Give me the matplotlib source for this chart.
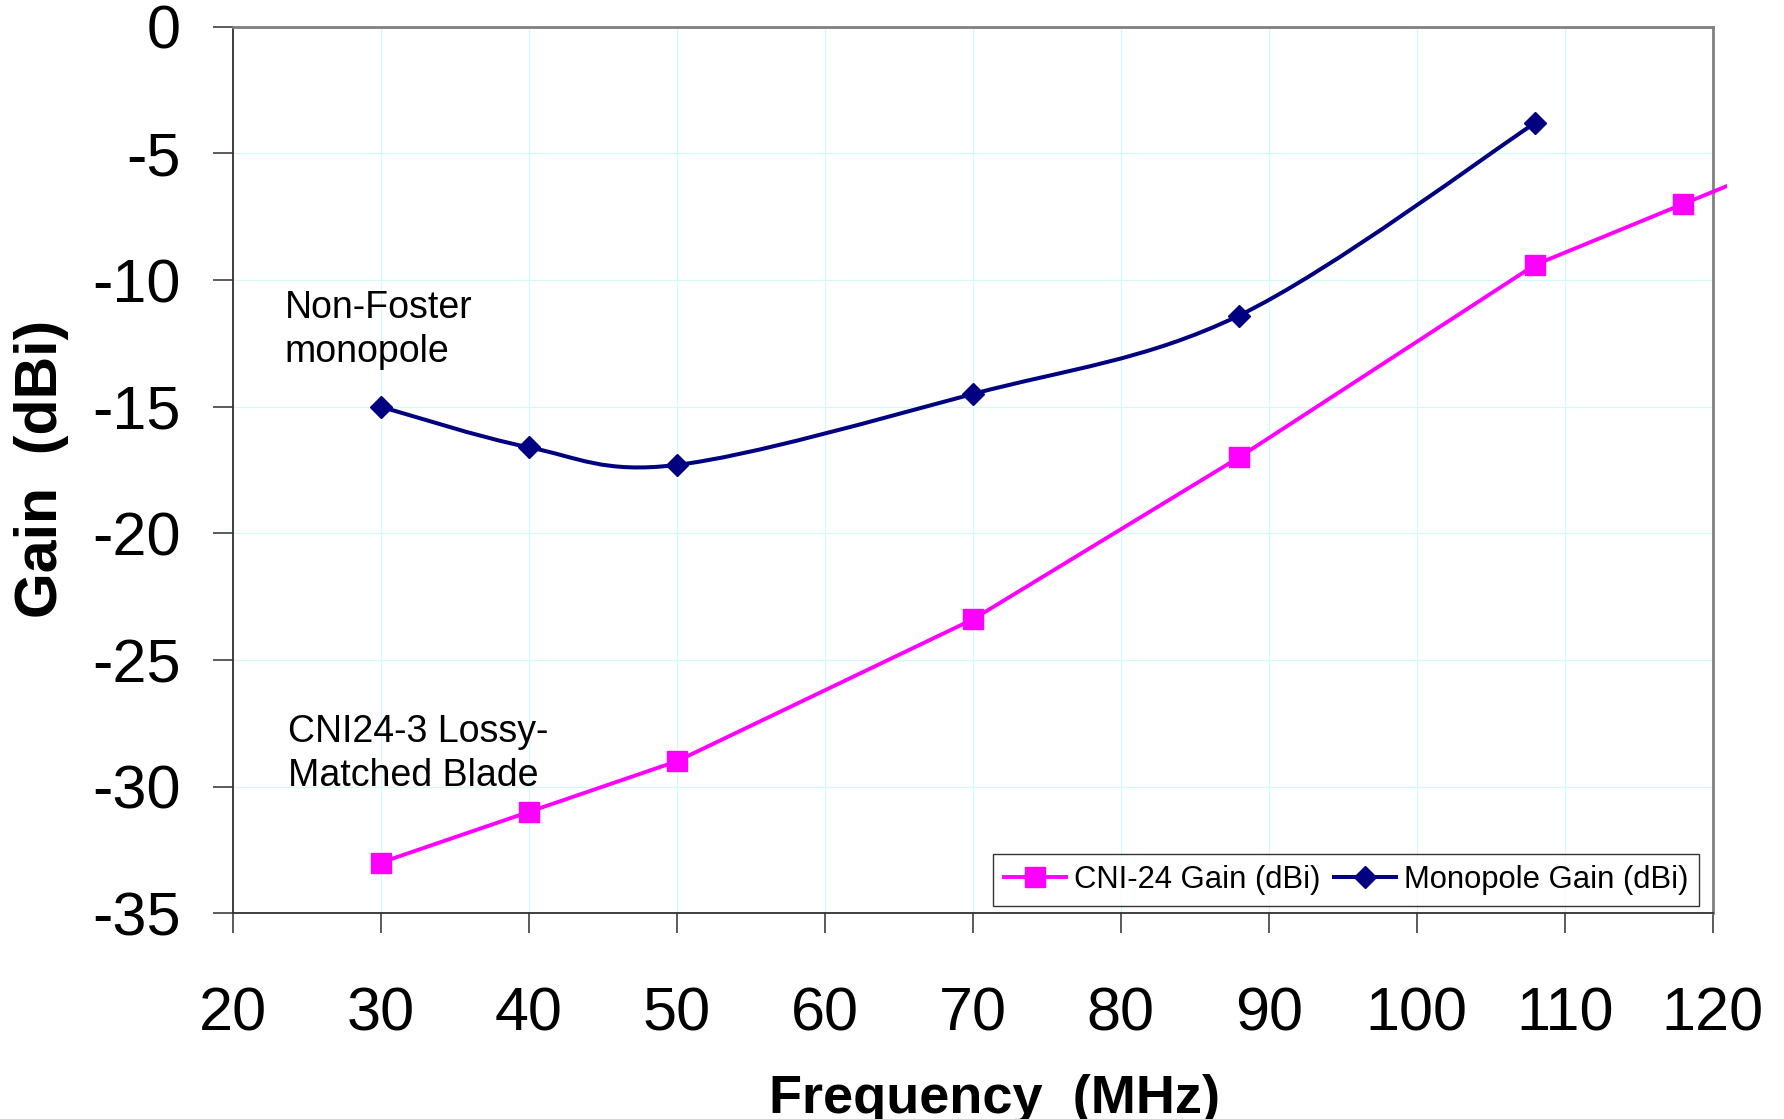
import matplotlib
matplotlib.use("Agg")
import matplotlib.pyplot as plt
import numpy as np
from matplotlib.path import Path
from matplotlib.patches import PathPatch, Rectangle
from matplotlib.lines import Line2D

plt.rcParams['font.family'] = ['Liberation Sans', 'DejaVu Sans']

# ---- data -------------------------------------------------------------
cni_freq = [30, 40, 50, 70, 88, 108, 118, 128]
cni_gain = [-33.0, -31.0, -29.0, -23.4, -17.0, -9.4, -7.0, -4.6]

mono_freq = [30, 40, 50, 70, 88, 108]
mono_gain = [-15.0, -16.6, -17.3, -14.5, -11.4, -3.8]

x_ticks = [20, 30, 40, 50, 60, 70, 80, 90, 100, 110, 120]
y_ticks = [0, -5, -10, -15, -20, -25, -30, -35]

CNI_COLOR = '#FF00FF'
MONO_COLOR = '#000080'


def smooth_path(xs, ys):
    """Cubic Bezier path through the points (Catmull-Rom style tangents)."""
    pts = np.column_stack([xs, ys]).astype(float)
    n = len(pts)
    verts = [pts[0]]
    codes = [Path.MOVETO]
    for i in range(n - 1):
        p0 = pts[i - 1] if i > 0 else pts[i]
        p1 = pts[i]
        p2 = pts[i + 1]
        p3 = pts[i + 2] if i + 2 < n else pts[i + 1]
        c1 = p1 + (p2 - p0) / 6.0
        c2 = p2 - (p3 - p1) / 6.0
        verts += [c1, c2, p2]
        codes += [Path.CURVE4] * 3
    return Path(verts, codes)


fig = plt.figure(figsize=(17.84, 11.19), dpi=100)
ax = fig.add_axes([0.1304, 0.1838, 0.8296, 0.7923])

ax.set_xlim(20, 120)
ax.set_ylim(-35, 0)
ax.set_xticks(x_ticks)
ax.set_yticks(y_ticks)
ax.set_xticklabels([str(v) for v in x_ticks])
ax.set_yticklabels([str(v) for v in y_ticks])

ax.grid(True, color='#d3fafa', linewidth=0.9)
ax.set_axisbelow(True)

# CNI-24 blade: straight segments, clipped just past the right edge
cni_line, = ax.plot(cni_freq, cni_gain, color=CNI_COLOR, linewidth=2.8,
                    marker='s', markersize=14, markerfacecolor=CNI_COLOR,
                    markeredgecolor=CNI_COLOR, zorder=3)
clip_rect = Rectangle((0, 0), 1.0097, 1.0, transform=ax.transAxes,
                      facecolor='none', edgecolor='none')
ax.add_patch(clip_rect)
cni_line.set_clip_path(clip_rect)

# Non-Foster monopole: smoothed curve with diamond markers
ax.add_patch(PathPatch(smooth_path(mono_freq, mono_gain), facecolor='none',
                       edgecolor=MONO_COLOR, linewidth=2.9, zorder=3))
ax.plot(mono_freq, mono_gain, linestyle='none', marker='D', markersize=11,
        markerfacecolor=MONO_COLOR, markeredgecolor=MONO_COLOR, zorder=4)

# spines
for side in ('left', 'bottom'):
    ax.spines[side].set_color('#303030')
    ax.spines[side].set_linewidth(1.3)
for side in ('top', 'right'):
    ax.spines[side].set_color('#808080')
    ax.spines[side].set_linewidth(2.0)

ax.tick_params(axis='both', direction='out', length=14.4, width=1.2,
               color='#404040', labelsize=44)
ax.tick_params(axis='y', pad=23)
ax.tick_params(axis='x', pad=38)

# axis titles
fig.text(0.5574, (1119 - 1113) / 1119, 'Frequency  (MHz)', fontsize=39,
         fontweight='bold', ha='center', va='baseline')
fig.text(42 / 1784, 1 - 469 / 1119, 'Gain  (dBi)', fontsize=42.5,
         fontweight='bold', ha='center', va='center', rotation=90)

# curve annotations
ax.text(23.5, -13.23, 'Non-Foster\nmonopole', fontsize=27,
        ha='left', va='baseline', linespacing=1.28)
ax.text(23.75, -29.98, 'CNI24-3 Lossy-\nMatched Blade', fontsize=27,
        ha='left', va='baseline', linespacing=1.28)

# legend
handles = [
    Line2D([], [], color=CNI_COLOR, linewidth=2.8, marker='s', markersize=14,
           markerfacecolor=CNI_COLOR, markeredgecolor=CNI_COLOR),
    Line2D([], [], color=MONO_COLOR, linewidth=2.9, marker='D', markersize=11,
           markerfacecolor=MONO_COLOR, markeredgecolor=MONO_COLOR),
]
leg = ax.legend(handles, ['CNI-24 Gain (dBi)', 'Monopole Gain (dBi)'],
                loc='lower right', bbox_to_anchor=(0.9908, 0.0082), ncol=2,
                fontsize=22.3, frameon=True, fancybox=False, shadow=False,
                handlelength=2.0, handletextpad=0.25, columnspacing=0.45,
                borderpad=0.35, borderaxespad=0.0)
leg.get_frame().set_edgecolor('#000000')
leg.get_frame().set_linewidth(1.0)

fig.savefig('out.png', dpi=100)
